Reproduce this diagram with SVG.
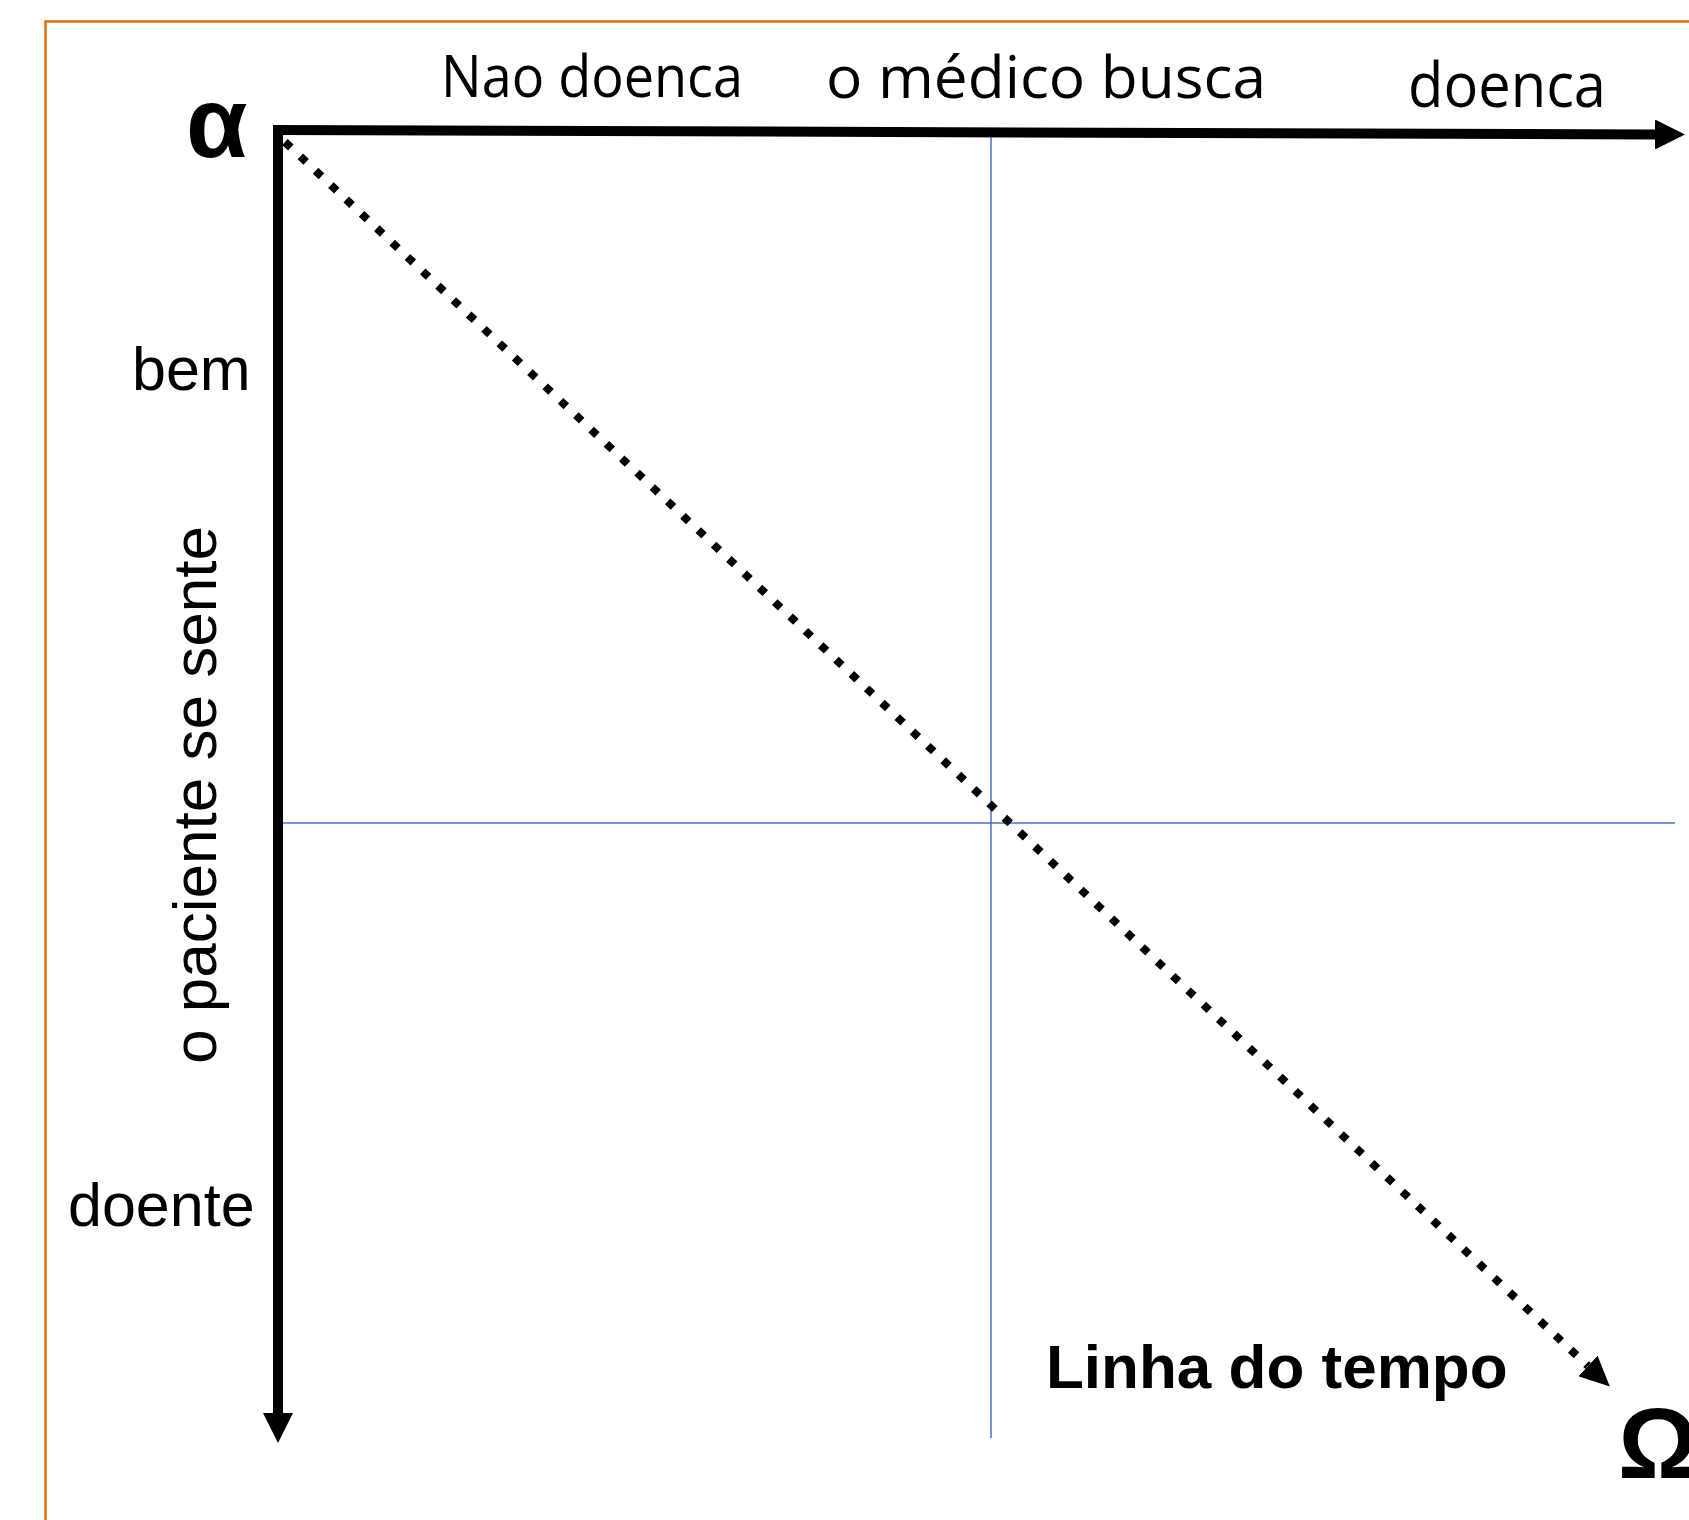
<svg xmlns="http://www.w3.org/2000/svg" width="1689" height="1520" viewBox="0 0 1689 1520">
<style>
.frame{fill:none;stroke:#E46C0A;stroke-width:2.5}
.axis{fill:none;stroke:#000;stroke-width:10}
.guide{fill:none;stroke:#4472C4;stroke-width:1.5}
.diag{fill:none;stroke:#000;stroke-width:8;stroke-dasharray:8 13}
.lbl{font-family:"Open Sans","Noto Sans",sans-serif;fill:#000}
.arl{font-family:"Liberation Sans",Arial,sans-serif;fill:#000}
.bold{font-weight:bold}
</style>
<defs>
<marker id="ah" viewBox="0 0 30 30" refX="0" refY="15" markerWidth="30" markerHeight="30" markerUnits="userSpaceOnUse" orient="auto"><path d="M0,0 L30,15 L0,30 z" fill="#000"/></marker>
<marker id="ahd" viewBox="0 0 30 28" refX="0" refY="14" markerWidth="30" markerHeight="28" markerUnits="userSpaceOnUse" orient="auto"><path d="M0,0 L30,14 L0,28 z" fill="#000"/></marker>
</defs>
<rect class="frame" x="45.5" y="21.5" width="1700" height="1560"/>
<g id="guides">
<line class="guide" x1="991" y1="134" x2="991" y2="1438"/>
<line class="guide" x1="274" y1="823" x2="1675" y2="823"/>
</g>
<g id="connectors">
<path class="axis" d="M278,126 L278,1413" marker-end="url(#ah)"/>
<path class="axis" d="M273,130 L1655,134.5" marker-end="url(#ah)"/>
<path class="diag" d="M285,142 L1588,1366" marker-end="url(#ahd)"/>
</g>
<g id="alpha"><text class="arl bold" x="186" y="157" font-size="100">α</text></g>
<g id="omega"><text class="arl bold" x="1618" y="1478" font-size="100">Ω</text></g>
<g id="nao-doenca"><text class="lbl" x="441" y="97" font-size="58" textLength="302" lengthAdjust="spacingAndGlyphs">Nao doenca</text></g>
<g id="medico-busca"><text class="lbl" x="826" y="98" font-size="58" textLength="440" lengthAdjust="spacingAndGlyphs">o médico busca</text></g>
<g id="doenca"><text class="lbl" x="1408" y="107" font-size="62" textLength="198" lengthAdjust="spacingAndGlyphs">doenca</text></g>
<g id="bem"><text class="arl" x="132" y="390" font-size="61">bem</text></g>
<g id="doente"><text class="arl" x="68" y="1226" font-size="61">doente</text></g>
<g id="paciente"><text class="arl" x="0" y="0" font-size="62" text-anchor="middle" transform="translate(216,795) rotate(-90)">o paciente se sente</text></g>
<g id="linha-tempo"><text class="arl bold" x="1046" y="1388" font-size="62">Linha do tempo</text></g>
</svg>
